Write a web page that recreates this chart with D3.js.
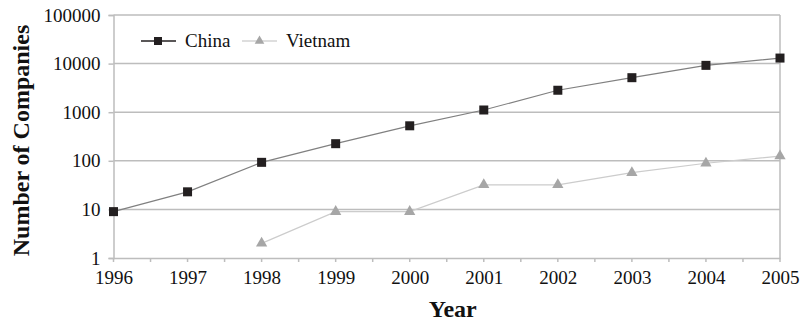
<!DOCTYPE html>
<html>
<head>
<meta charset="utf-8">
<script src="https://cdn.jsdelivr.net/npm/d3@7"></script>
<style>
  body { margin: 0; background: #fff; }
  svg { display: block; }
  svg text { font-family: "Liberation Serif", "Times New Roman", serif; }
</style>
</head>
<body>
<svg id="chart" width="805" height="322"></svg>
<script>
// Number of companies per year, log scale
const years = [1996, 1997, 1998, 1999, 2000, 2001, 2002, 2003, 2004, 2005];
const china = [9, 23, 93, 225, 525, 1110, 2830, 5130, 9200, 13000];
const vietnam = [null, null, 2, 9, 9, 32, 32, 57, 89, 125];
const yTicks = [1, 10, 100, 1000, 10000, 100000];

const svg = d3.select("#chart");
const margin = { left: 113.5, right: 25, top: 15, bottom: 64 };
const W = 805, H = 322;
const serif = '"Liberation Serif", "Times New Roman", serif';

const x = d3.scaleLinear().domain([1996, 2005]).range([margin.left, W - margin.right]);
const y = d3.scaleLog().domain([1, 100000]).range([H - margin.bottom, margin.top]);

const gridColor = "#bdbdbd";

// horizontal gridlines
svg.append("g").selectAll("line").data(yTicks.slice(1)).join("line")
  .attr("x1", x(1996)).attr("x2", x(2005))
  .attr("y1", d => y(d)).attr("y2", d => y(d))
  .attr("stroke", gridColor).attr("stroke-width", 1.5);

// right border
svg.append("line")
  .attr("x1", x(2005)).attr("x2", x(2005))
  .attr("y1", y(100000)).attr("y2", y(1))
  .attr("stroke", gridColor).attr("stroke-width", 1.5);

// y axis
const yAxis = svg.append("g")
  .attr("transform", `translate(${x(1996)},0)`)
  .call(d3.axisLeft(y).tickValues(yTicks).tickFormat(d3.format("d")).tickSize(5).tickPadding(8));
yAxis.attr("font-family", null).attr("font-size", null);
yAxis.select(".domain").attr("stroke", gridColor).attr("stroke-width", 1.5);
yAxis.selectAll(".tick line").attr("stroke", gridColor).attr("stroke-width", 1.5);
yAxis.selectAll("text").style("font-size", "19px").style("font-family", serif).attr("fill", "#111");

// x axis: labels at years, tick marks every half year
const xAxis = svg.append("g")
  .attr("transform", `translate(0,${y(1)})`)
  .call(d3.axisBottom(x).tickValues(years).tickFormat(d3.format("d")).tickSize(0).tickPadding(13));
xAxis.attr("font-family", null).attr("font-size", null);
xAxis.select(".domain").attr("stroke", gridColor).attr("stroke-width", 1.5);
xAxis.selectAll("text").style("font-size", "19px").style("font-family", serif).attr("fill", "#111");
const halfTicks = d3.range(1996, 2005.01, 0.5);
svg.append("g").selectAll("line").data(halfTicks).join("line")
  .attr("x1", d => x(d)).attr("x2", d => x(d))
  .attr("y1", y(1)).attr("y2", y(1) + 4)
  .attr("stroke", gridColor).attr("stroke-width", 1.5);

// axis titles
svg.append("text")
  .attr("transform", `translate(29,${(y(1) + y(100000)) / 2 + 4}) rotate(-90)`)
  .attr("text-anchor", "middle")
  .style("font-size", "24px").style("font-weight", "bold").attr("fill", "#111")
  .text("Number of Companies");
svg.append("text")
  .attr("x", (x(1996) + x(2005)) / 2 + 6).attr("y", 317)
  .attr("text-anchor", "middle")
  .style("font-size", "24px").style("font-weight", "bold").attr("fill", "#111")
  .text("Year");

const line = d3.line()
  .defined(d => d[1] != null)
  .x(d => x(d[0])).y(d => y(d[1]));

const chinaPts = years.map((yr, i) => [yr, china[i]]);
const vietPts = years.map((yr, i) => [yr, vietnam[i]]).filter(d => d[1] != null);

// Vietnam series
svg.append("path").datum(vietPts)
  .attr("d", line).attr("fill", "none")
  .attr("stroke", "#cccccc").attr("stroke-width", 1.2);
const tri = d3.symbol().type(d3.symbolTriangle).size(55);
svg.append("g").selectAll("path").data(vietPts).join("path")
  .attr("d", tri)
  .attr("transform", d => `translate(${x(d[0])},${y(d[1])})`)
  .attr("fill", "#a6a6a6");

// China series
svg.append("path").datum(chinaPts)
  .attr("d", line).attr("fill", "none")
  .attr("stroke", "#808080").attr("stroke-width", 1.2);
svg.append("g").selectAll("rect").data(chinaPts).join("rect")
  .attr("x", d => x(d[0]) - 4.5).attr("y", d => y(d[1]) - 4.5)
  .attr("width", 9).attr("height", 9)
  .attr("fill", "#231f20");

// legend
const lg = svg.append("g").attr("transform", "translate(141,41)");
lg.append("line").attr("x1", 0).attr("x2", 35).attr("y1", 0).attr("y2", 0)
  .attr("stroke", "#231f20").attr("stroke-width", 1.5);
lg.append("rect").attr("x", 13).attr("y", -4).attr("width", 8).attr("height", 8).attr("fill", "#231f20");
lg.append("text").attr("x", 44).attr("y", 6).style("font-size", "19px").attr("fill", "#111").text("China");
lg.append("line").attr("x1", 101).attr("x2", 136).attr("y1", 0).attr("y2", 0)
  .attr("stroke", "#bdbdbd").attr("stroke-width", 1.2);
lg.append("path").attr("d", d3.symbol().type(d3.symbolTriangle).size(40))
  .attr("transform", "translate(118.5,0)").attr("fill", "#a6a6a6");
lg.append("text").attr("x", 145).attr("y", 6).style("font-size", "19px").attr("fill", "#111").text("Vietnam");
</script>
</body>
</html>
